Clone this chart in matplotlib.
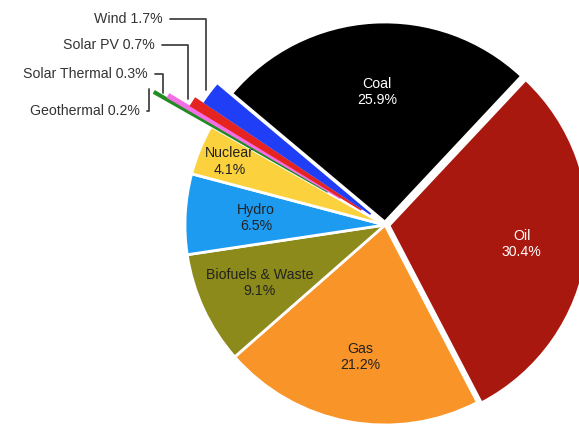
import numpy as np
import matplotlib
matplotlib.use("Agg")
import matplotlib.pyplot as plt

plt.rcParams['font.family'] = ['Liberation Sans', 'DejaVu Sans']

# world energy supply by source (%)
sources = ["Coal", "Oil", "Gas", "Biofuels & Waste", "Hydro", "Nuclear",
           "Geothermal", "Solar Thermal", "Solar PV", "Wind"]
shares = [25.9, 30.4, 21.2, 9.1, 6.5, 4.1, 0.2, 0.3, 0.7, 1.7]
colors = ["#000000", "#a8180f", "#f99429", "#8c8a1b", "#1d9bf0", "#fbd23d",
          "#228b22", "#f46ee6", "#e52421", "#1f3ef5"]
explode = [0.015, 0.02, 0, 0, 0, 0, 0.33, 0.26, 0.14, 0.09]

fig = plt.figure(figsize=(5.79, 4.26), dpi=100)
ax = fig.add_axes([0, 0, 1, 1])

wedges, _ = ax.pie(shares, colors=colors, explode=explode, startangle=140,
                   counterclock=False, radius=1,
                   wedgeprops=dict(edgecolor="white", linewidth=2))

# thin slices drawn as lines of their own colour
for w in wedges[6:]:
    w.set_edgecolor(w.get_facecolor())
    w.set_linewidth(1.2)

# inside labels
label_r = [0.65, 0.67, 0.67, 0.69, 0.645, 0.84]
text_col = ["white", "white", "#222222", "#222222", "#222222", "#222222"]
for i in range(6):
    w = wedges[i]
    ang = np.deg2rad((w.theta1 + w.theta2) / 2)
    cx, cy = w.center
    ax.text(cx + label_r[i] * np.cos(ang), cy + label_r[i] * np.sin(ang),
            f"{sources[i]}\n{shares[i]}%", ha="center", va="center",
            fontsize=10.2, color=text_col[i], linespacing=1.2)

# outside labels with elbow leaders
text_pos = {6: (-1.225, 0.57), 7: (-1.185, 0.755), 8: (-1.15, 0.90), 9: (-1.11, 1.03)}
for i, (tx, ty) in text_pos.items():
    w = wedges[i]
    ang = np.deg2rad((w.theta1 + w.theta2) / 2)
    r = 1 + explode[i] + 0.03
    ax.annotate(f"{sources[i]} {shares[i]}%", xy=(r * np.cos(ang), r * np.sin(ang)),
                xytext=(tx, ty), ha="right", va="center", fontsize=10.2, color="#333333",
                arrowprops=dict(arrowstyle="-", color="#444444", lw=1.3,
                                shrinkA=3, shrinkB=0,
                                connectionstyle="angle,angleA=0,angleB=90,rad=0"))

ax.set_xlim(-1.925, 0.97)
ax.set_ylim(-1.005, 1.125)
ax.set_aspect("auto")
ax.axis("off")

fig.savefig("out.png", dpi=100)
